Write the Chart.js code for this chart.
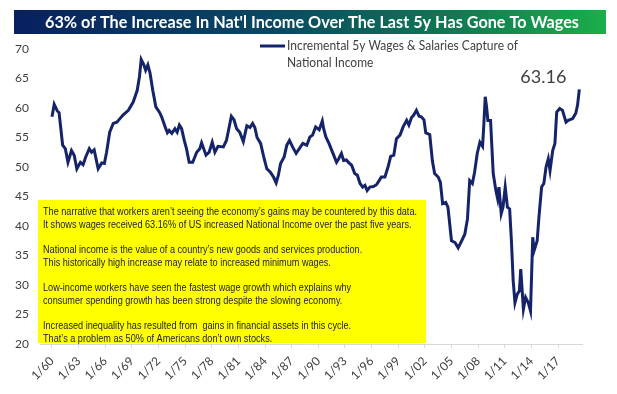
<!DOCTYPE html>
<html>
<head>
<meta charset="utf-8">
<script src="https://cdn.jsdelivr.net/npm/chart.js@4/dist/chart.umd.min.js"></script>
<style>
  html, body { margin: 0; padding: 0; background: #fff; }
  canvas { display: block; }
</style>
</head>
<body>
<canvas id="wagesChart" width="617" height="394"></canvas>
<script>
// data (decimal years)
const dates = [
  1960.0, 1960.25, 1960.6, 1960.8, 1961.2, 1961.5, 1961.8, 1962.2, 1962.5, 1962.8,
  1963.2, 1963.5, 1963.8, 1964.2, 1964.45, 1964.75, 1965.2, 1965.6, 1965.9, 1966.15,
  1966.5, 1966.9, 1967.3, 1967.65, 1968.0, 1968.6, 1969.15, 1969.6, 1969.85, 1970.05,
  1970.35, 1970.55, 1970.8, 1971.05, 1971.35, 1971.7, 1972.1, 1972.35, 1972.75, 1973.0,
  1973.2, 1973.5, 1973.85, 1974.1, 1974.35, 1974.6, 1974.9, 1975.15, 1975.45, 1975.85,
  1976.3, 1976.65, 1976.85, 1977.35, 1977.7, 1978.05, 1978.35, 1978.7, 1979.3, 1979.65,
  1979.95, 1980.2, 1980.5, 1980.8, 1981.15, 1981.55, 1981.95, 1982.3, 1982.6, 1982.85,
  1983.1, 1983.5, 1983.9, 1984.2, 1984.6, 1984.95, 1985.25, 1985.5, 1985.75, 1986.15,
  1986.45, 1986.75, 1987.1, 1987.5, 1987.85, 1988.25, 1988.7, 1989.05, 1989.35, 1989.7,
  1990.1, 1990.45, 1990.6, 1990.85, 1991.2, 1991.65, 1992.05, 1992.3, 1992.6, 1992.85,
  1993.15, 1993.45, 1993.75, 1994.1, 1994.4, 1994.7, 1995.0, 1995.25, 1995.5, 1995.8,
  1996.2, 1996.55, 1996.85, 1997.1, 1997.5, 1997.85, 1998.15, 1998.5, 1998.8, 1999.2,
  1999.55, 1999.95, 2000.2, 2000.5, 2000.75, 2001.05, 2001.35, 2001.6, 2001.9, 2002.1,
  2002.55, 2002.85, 2003.1, 2003.5, 2003.75, 2004.0, 2004.35, 2004.6, 2005.0, 2005.4,
  2005.75, 2006.15, 2006.5, 2006.8, 2007.05, 2007.35, 2007.6, 2007.9, 2008.2, 2008.5,
  2008.65, 2008.8, 2008.95, 2009.1, 2009.4, 2009.7, 2010.0, 2010.2, 2010.35, 2010.6,
  2010.8, 2011.05, 2011.3, 2011.55, 2011.75, 2011.95, 2012.15, 2012.4, 2012.65, 2012.8,
  2013.1, 2013.35, 2013.65, 2013.9, 2014.15, 2014.3, 2014.65, 2014.85, 2015.15, 2015.4,
  2015.65, 2015.9, 2016.1, 2016.4, 2016.65, 2016.85, 2017.2, 2017.5, 2017.9, 2018.15,
  2018.65, 2019.0, 2019.2, 2019.4
];
const wageCapture = [
  58.5, 60.6, 59.5, 59.2, 53.7, 53.1, 50.8, 52.8, 52.0, 49.7,
  50.8, 50.4, 51.7, 53.1, 52.5, 52.9, 49.7, 50.7, 50.6, 52.5,
  55.9, 57.4, 57.6, 58.2, 58.8, 59.6, 61.0, 63.0, 65.3, 68.2,
  67.3, 66.4, 67.3, 65.9, 63.0, 60.2, 59.3, 58.5, 56.8, 55.8,
  56.2, 55.7, 56.5, 55.9, 57.1, 56.5, 54.5, 53.1, 50.8, 50.8,
  52.5, 53.1, 54.1, 52.0, 52.5, 54.2, 52.5, 53.5, 53.4, 54.5,
  56.7, 58.6, 58.0, 56.5, 55.9, 54.3, 57.0, 56.7, 57.4, 56.7,
  55.0, 54.0, 51.4, 49.7, 49.1, 48.3, 47.3, 48.6, 50.6, 51.7,
  53.7, 54.5, 53.4, 52.3, 53.1, 54.0, 53.7, 55.1, 55.4, 56.8,
  56.3, 57.8, 56.5, 55.1, 54.0, 52.3, 50.8, 51.4, 52.3, 51.1,
  51.2, 50.7, 50.3, 48.9, 48.6, 47.2, 46.6, 46.9, 46.0, 46.6,
  46.7, 47.0, 47.7, 48.3, 48.3, 50.0, 51.8, 52.0, 54.8, 55.4,
  56.8, 57.9, 57.1, 58.4, 58.8, 59.6, 58.6, 58.5, 58.0, 55.8,
  55.5, 51.0, 48.9, 48.3, 47.4, 43.8, 44.0, 43.2, 37.5, 37.2,
  36.3, 37.5, 38.6, 41.2, 47.7, 47.2, 49.1, 52.3, 54.2, 53.5,
  57.4, 61.9, 60.2, 57.9, 57.9, 48.9, 46.0, 44.6, 46.6, 42.1,
  43.2, 46.6, 43.2, 42.9, 37.5, 30.7, 27.0, 28.4, 29.0, 32.7,
  25.9, 27.9, 27.0, 25.6, 38.1, 35.8, 37.5, 41.5, 46.6, 47.2,
  50.0, 51.4, 49.4, 52.8, 54.0, 59.3, 59.9, 59.6, 57.6, 57.9,
  58.2, 59.1, 60.5, 63.16
];

const tickYears = [1960, 1963, 1966, 1969, 1972, 1975, 1978, 1981, 1984, 1987,
  1990, 1993, 1996, 1999, 2002, 2005, 2008, 2011, 2014, 2017];
const tickLabels = ['1/60', '1/63', '1/66', '1/69', '1/72', '1/75', '1/78', '1/81', '1/84', '1/87',
  '1/90', '1/93', '1/96', '1/99', '1/02', '1/05', '1/08', '1/11', '1/14', '1/17'];

const chartTitle = "63% of The Increase In Nat'l Income Over The Last 5y Has Gone To Wages";
const seriesName = ['Incremental 5y Wages & Salaries Capture of', 'National Income'];
const noteLines = [
  ['The narrative that workers aren\u2019t seeing the economy\u2019s gains may be countered by this data.',
   'It shows wages received 63.16% of US increased National Income over the past five years.'],
  ['National income is the value of a country\u2019s new goods and services production.',
   'This historically high increase may relate to increased minimum wages.'],
  ['Low-income workers have seen the fastest wage growth which explains why',
   'consumer spending growth has been strong despite the slowing economy.'],
  ['Increased inequality has resulted from  gains in financial assets in this cycle.',
   'That\u2019s a problem as 50% of Americans don\u2019t own stocks.']
];

const NAVY = '#15246a';
const GREY = '#404040';

// draw text squeezed/stretched to a given width
function fitText(ctx, text, x, y, width) {
  const w = ctx.measureText(text).width;
  ctx.save();
  ctx.translate(x, y);
  ctx.scale(width / w, 1);
  ctx.fillText(text, 0, 0);
  ctx.restore();
  return width / w;
}

const decorations = {
  id: 'decorations',
  beforeDraw(chart) {
    const ctx = chart.ctx;
    ctx.save();
    ctx.fillStyle = '#fff';
    ctx.fillRect(0, 0, chart.width, chart.height);
    ctx.restore();
  },
  afterDraw(chart) {
    const ctx = chart.ctx;
    const xs = chart.scales.x, ys = chart.scales.y;
    ctx.save();

    // title banner
    const grad = ctx.createLinearGradient(14, 0, 606, 0);
    grad.addColorStop(0, '#08205f');
    grad.addColorStop(0.45, '#0a4a62');
    grad.addColorStop(0.75, '#0f7a52');
    grad.addColorStop(1, '#1cae4a');
    ctx.fillStyle = grad;
    ctx.fillRect(14, 10, 592, 24);
    ctx.fillStyle = '#fff';
    ctx.font = 'bold 17px Lato, "Open Sans", sans-serif';
    ctx.textBaseline = 'middle';
    ctx.textAlign = 'left';
    fitText(ctx, chartTitle, 45, 23, 534);

    // legend
    ctx.strokeStyle = NAVY;
    ctx.lineWidth = 3;
    ctx.beginPath();
    ctx.moveTo(260, 46);
    ctx.lineTo(285, 46);
    ctx.stroke();
    ctx.fillStyle = GREY;
    ctx.font = '13px Lato, "Open Sans", sans-serif';
    const k = fitText(ctx, seriesName[0], 287, 46, 231);
    ctx.save();
    ctx.translate(287, 63);
    ctx.scale(k, 1);
    ctx.fillText(seriesName[1], 0, 0);
    ctx.restore();

    // last value label
    const lastX = xs.getPixelForValue(dates[dates.length - 1]);
    const lastY = ys.getPixelForValue(wageCapture[wageCapture.length - 1]);
    ctx.font = '18px Lato, "Open Sans", sans-serif';
    ctx.textAlign = 'center';
    ctx.fillText(wageCapture[wageCapture.length - 1].toFixed(2), lastX - 36, lastY - 12);

    // yellow note box
    ctx.fillStyle = '#ffff00';
    ctx.fillRect(38, 200, 388, 143);
    ctx.fillStyle = '#1b1b3a';
    ctx.textAlign = 'left';
    ctx.font = '11px "Liberation Sans Narrow", "Arial Narrow", "Liberation Sans", Arial, sans-serif';
    const s = 374 / ctx.measureText(noteLines[0][0]).width;
    let y = 212;
    noteLines.forEach(par => {
      par.forEach(line => {
        ctx.save();
        ctx.translate(43, y);
        ctx.scale(s, 1);
        ctx.fillText(line, 0, 0);
        ctx.restore();
        y += 13;
      });
      y += 12;
    });

    ctx.restore();
  }
};

Chart.defaults.font.family = 'Lato, "Open Sans", sans-serif';
Chart.defaults.color = GREY;

const ctx = document.getElementById('wagesChart').getContext('2d');
const wagesChart = new Chart(ctx, {
  type: 'line',
  data: {
    datasets: [{
      label: seriesName.join(' '),
      data: dates.map((d, i) => ({ x: d, y: wageCapture[i] })),
      borderColor: NAVY,
      borderWidth: 3,
      pointRadius: 0,
      tension: 0,
      fill: false
    }]
  },
  options: {
    responsive: false,
    animation: false,
    devicePixelRatio: 1,
    layout: { padding: { top: 49, right: 35, left: 0, bottom: 0 } },
    plugins: {
      legend: { display: false },
      title: { display: false },
      tooltip: { enabled: false }
    },
    scales: {
      x: {
        type: 'linear',
        min: 1958.65,
        max: 2019.7,
        afterBuildTicks: axis => { axis.ticks = tickYears.map(v => ({ value: v })); },
        afterFit: scale => { scale.height = 50; },
        grid: { drawOnChartArea: false, drawTicks: true, tickLength: 4, color: '#d9d9d9' },
        border: { display: true, color: '#d9d9d9' },
        ticks: {
          autoSkip: false,
          maxRotation: 45,
          minRotation: 45,
          padding: 6,
          font: { size: 12 },
          color: GREY,
          callback: (v) => tickLabels[tickYears.indexOf(v)]
        }
      },
      y: {
        min: 20,
        max: 70,
        afterFit: scale => { scale.width = 40; },
        grid: { display: false },
        border: { display: false },
        ticks: { stepSize: 5, padding: 3, font: { size: 12 }, color: GREY }
      }
    }
  },
  plugins: [decorations]
});
</script>
</body>
</html>
